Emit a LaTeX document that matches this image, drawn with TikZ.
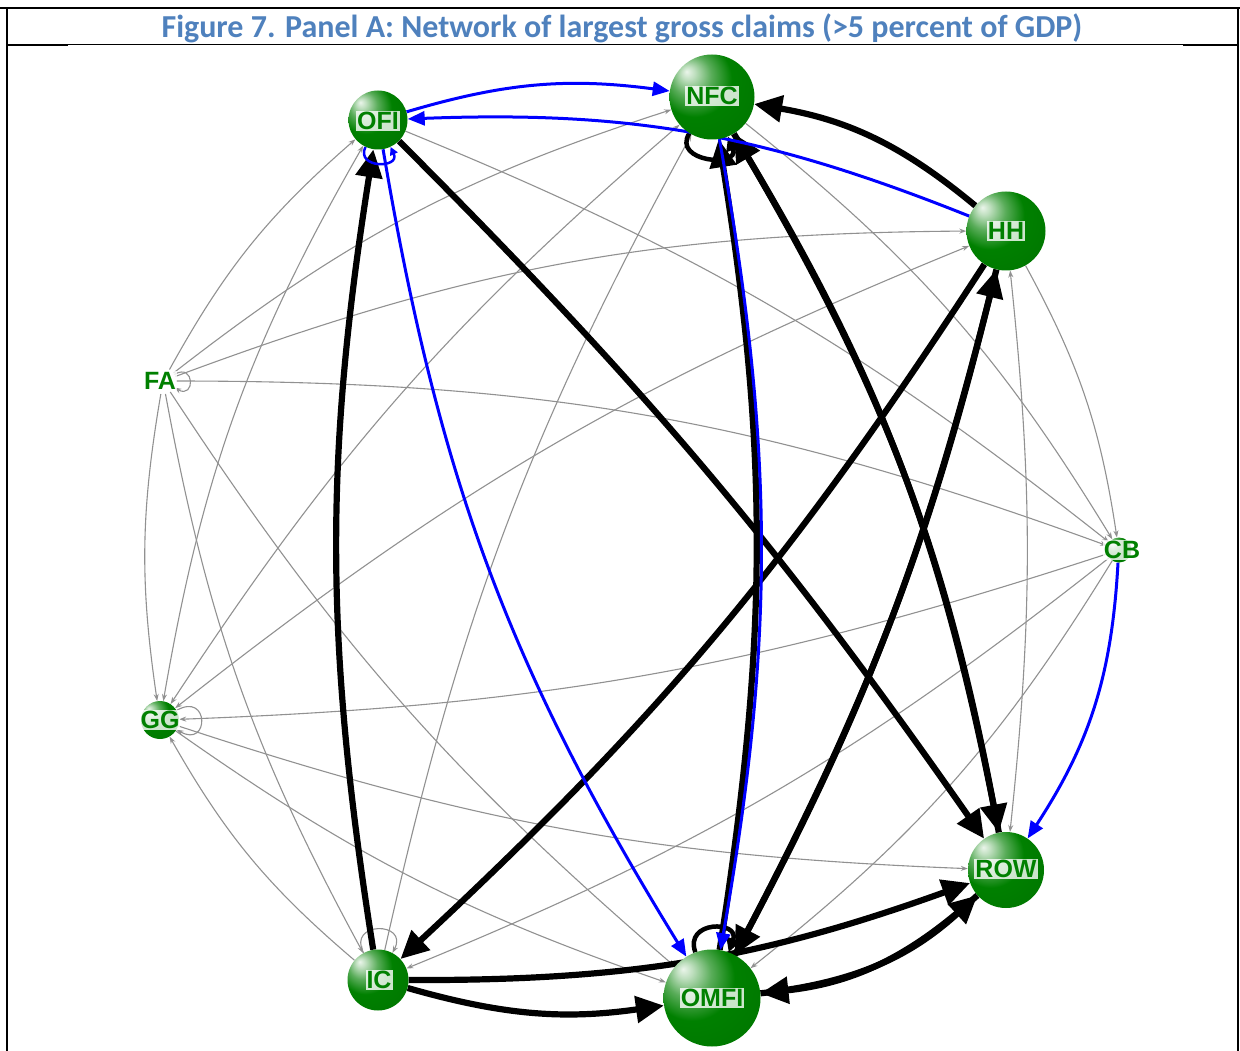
\documentclass[tikz,border=0pt]{standalone}
\usepackage{fontspec}
\setmainfont{Liberation Sans}
\newfontfamily\titlefont{Carlito}
\usetikzlibrary{arrows.meta}
\definecolor{nodegreen}{RGB}{0,128,0}
\definecolor{titleblue}{RGB}{79,129,189}
\definecolor{edgegray}{RGB}{145,145,145}
\definecolor{edgeblue}{RGB}{0,0,255}
\pgfdeclareradialshading{greenball}{\pgfqpoint{-15bp}{15bp}}{%
  color(0bp)=(white!92!nodegreen); color(4bp)=(white!75!nodegreen); color(12bp)=(white!35!nodegreen); color(22bp)=(nodegreen); color(50bp)=(nodegreen!88!black); color(70bp)=(nodegreen!72!black)}
\pgfdeclarelayer{edgelayer}
\pgfsetlayers{edgelayer,main}
\tikzset{
  gball/.style={circle, shading=greenball, inner sep=0pt, minimum size=#1},
  plainnode/.style={circle, inner sep=0pt, minimum size=#1},
  lbl/.style={font=\bfseries\fontsize{25}{25}\selectfont, text=nodegreen, fill=white, fill opacity=0.8, text opacity=1, inner sep=1pt, outer sep=0pt},
  g/.style={draw=edgegray, line width=1.1pt, >={Stealth[length=7pt,width=5pt]}},
  bl/.style={draw=edgeblue, line width=3pt, >={Triangle[length=17pt,width=14pt]}},
  bk/.style={draw=black, line width=6.2pt, >={Triangle[length=28pt,width=26pt]}},
  bkloop/.style={draw=black, line width=4.5pt, >={Triangle[length=14pt,width=14pt]}},
  blloop/.style={draw=edgeblue, line width=2.5pt, >={Triangle[length=8pt,width=8pt]}},
  frameline/.style={draw=black, line cap=rect}
}
\begin{document}
\begin{tikzpicture}[x=1pt,y=1pt]
\useasboundingbox (0,0) rectangle (1240,-1051);
% frame
\draw[frameline, line width=2.2pt] (0,-8) -- (1240,-8);
\draw[frameline, line width=1.3pt] (7,-8) -- (7,-1051);
\draw[frameline, line width=1.3pt] (1238,-8) -- (1238,-1051);
\draw[draw=black, line width=0.7pt] (7,-44) -- (1238,-44);
\draw[draw=black, line width=1.6pt] (7,-45) -- (68,-45);
\draw[draw=black, line width=1.6pt] (1183,-45) -- (1238,-45);
\node[font=\titlefont\bfseries\fontsize{32}{32}\selectfont, text=titleblue] (title) at (622,-28) {Figure 7. Panel A: Network of largest gross claims (>5 percent of GDP)};

% nodes
\node[gball=85pt] (NFC) at (712,-97) {};
\node[gball=59pt] (OFI) at (378,-120) {};
\node[gball=79pt] (HH) at (1006,-231) {};
\node[plainnode=26pt] (FA) at (163,-381) {};
\node[gball=25pt] (CB) at (1119,-550) {};
\node[gball=38pt] (GG) at (160,-720) {};
\node[gball=76pt] (ROW) at (1006,-870) {};
\node[gball=97pt] (OMFI) at (712,-998) {};
\node[gball=61pt] (IC) at (378,-980) {};

\node[lbl] (NFCl) at (712,-96) {NFC};
\node[lbl] (OFIl) at (378,-121) {OFI};
\node[lbl] (HHl) at (1006,-231) {HH};
\node[lbl] (FAl) at (160,-381) {FA};
\node[lbl] (CBl) at (1122,-550) {CB};
\node[lbl] (GGl) at (160,-720) {GG};
\node[lbl] (ROWl) at (1006,-869) {ROW};
\node[lbl] (OMFIl) at (712,-998) {OMFI};
\node[lbl] (ICl) at (379,-980) {IC};

\begin{pgfonlayer}{edgelayer}
% gray edges
\draw[g,->] (FA) to[bend left=10] (OFI);
\draw[g,->] (FA) to[bend left=10] (NFC);
\draw[g,->] (FA) to[bend left=10] (HH);
\draw[g,->] (FA) to[bend left=10] (CB);
\draw[g,->] (FA) to[bend right=9] (GG);
\draw[g,->] (FA) to[bend right=9] (IC);
\draw[g,->] (FA) to[bend right=8] (OMFI);
\draw[g,<->] (GG) to[bend left=10] (OFI);
\draw[g,<->] (GG) to[bend left=8] (NFC);
\draw[g,<->] (GG) to[bend left=8] (HH);
\draw[g,->] (CB) to[bend left=8] (GG);
\draw[g,->] (GG) to[bend right=8] (ROW);
\draw[g,->] (GG) to[bend right=8] (OMFI);
\draw[g,->] (IC) to[bend left=10] (GG);
\draw[g,->] (OFI) to[bend left=8] (CB);
\draw[g,->] (NFC) to[bend left=10] (CB);
\draw[g,->] (HH) to[bend left=10] (CB);
\draw[g,<->] (HH) to[bend left=6] (ROW);
\draw[g,->] (IC) to[bend left=8] (NFC);
\draw[g,->] (CB) to[bend left=8] (IC);
\draw[g,->] (CB) to[bend left=10] (OMFI);
\draw[g,->] (FA) to[out=30,in=-30,min distance=24pt] (FA);
\draw[g,->] (GG) to[out=30,in=-30,min distance=38pt] (GG);
\draw[g,->] (IC) to[out=118,in=62,min distance=36pt] (IC);
% black edges
\draw[bk,->] (HH) to[bend right=15] (NFC);
\draw[bk,->] (NFC) to[bend left=10] (ROW);
\draw[bk,->] (ROW) to[bend right=10] (NFC);
\draw[bk,->] (OFI) to[bend left=5] (ROW);
\draw[bk,->] (HH) to[bend left=7] (IC);
\draw[bk,->] (OMFI) to[bend right=7] (HH);
\draw[bk,->] (HH) to[bend left=7] (OMFI);
\draw[bk,->] (IC) to[bend left=9] (OFI);
\draw[bk,->] (IC) to[bend right=12] (OMFI);
\draw[bk,->] (IC) to[bend right=10] (ROW);
\draw[bk,->] (OMFI) to[bend right=18] (ROW);
\draw[bk,->] (ROW) to[bend left=18] (OMFI);
\draw[bk,->] (OMFI) to[bend right=9] (NFC);
\draw[bkloop,->] (NFC) to[out=-122,in=-68,min distance=34pt] (NFC);
\draw[bkloop,->] (OMFI) to[out=110,in=70,min distance=34pt] (OMFI);
% blue edges
\draw[bl,->] (OFI) to[bend left=12] (NFC);
\draw[bl,->] (HH) to[bend right=12] (OFI);
\draw[bl,->] (OFI) to[bend right=11] (OMFI);
\draw[bl,->] (NFC) to[bend left=10] (OMFI);
\draw[bl,->] (CB) to[bend left=15] (ROW);
\draw[blloop,->] (OFI) to[out=-115,in=-65,min distance=24pt] (OFI);
\end{pgfonlayer}
\end{tikzpicture}
\end{document}
